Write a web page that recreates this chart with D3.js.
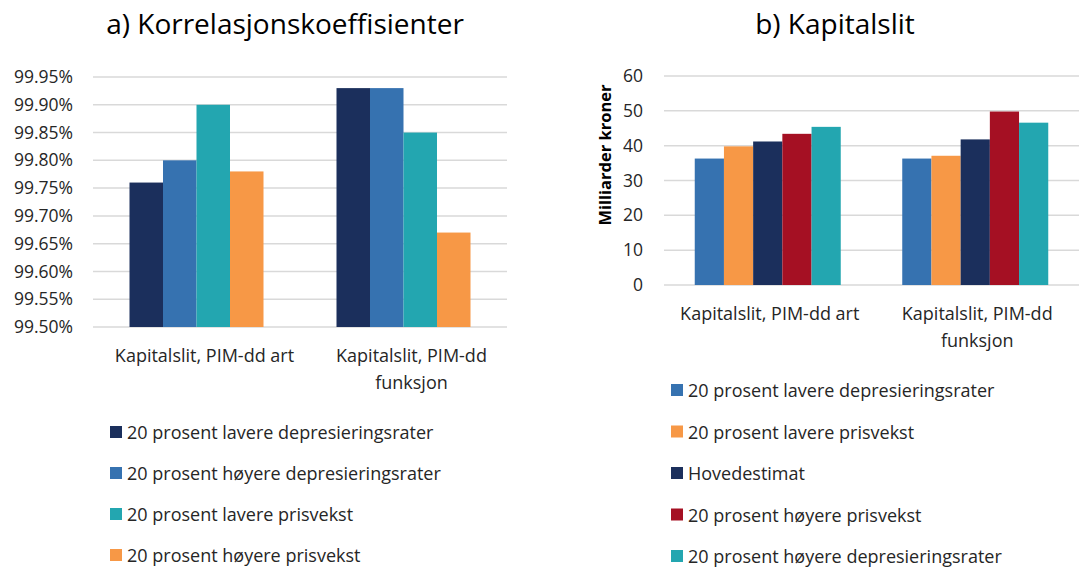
<!DOCTYPE html>
<html>
<head>
<meta charset="utf-8">
<script src="https://cdn.jsdelivr.net/npm/d3@7"></script>
<style>
	body { margin: 0; background: #fff; }
	svg text { font-family: "Open Sans", sans-serif; fill: #262626; }
</style>
</head>
<body>
<script>
var WIDTH = 1079, HEIGHT = 567;

var categories = ['Kapitalslit, PIM-dd art', 'Kapitalslit, PIM-dd funksjon'];

// a) Korrelasjonskoeffisienter (prosent)
var corrSeries = ['20 prosent lavere depresieringsrater', '20 prosent høyere depresieringsrater',
	'20 prosent lavere prisvekst', '20 prosent høyere prisvekst'];
var corrColors = ['#1b2f5c', '#3672b0', '#23a6b0', '#f79846'];
var corrValues = [
	[99.76, 99.93],
	[99.80, 99.93],
	[99.90, 99.85],
	[99.78, 99.67]
];
var corrTicks = [99.50, 99.55, 99.60, 99.65, 99.70, 99.75, 99.80, 99.85, 99.90, 99.95];

// b) Kapitalslit (milliarder kroner)
var slitSeries = ['20 prosent lavere depresieringsrater', '20 prosent lavere prisvekst', 'Hovedestimat',
	'20 prosent høyere prisvekst', '20 prosent høyere depresieringsrater'];
var slitColors = ['#3672b0', '#f79846', '#1b2f5c', '#a51023', '#23a6b0'];
var slitValues = [
	[36.3, 36.3],
	[39.8, 37.1],
	[41.2, 41.8],
	[43.4, 49.8],
	[45.4, 46.6]
];
var slitTicks = [0, 10, 20, 30, 40, 50, 60];

var svg = d3.select('body').append('svg')
	.attr('width', WIDTH)
	.attr('height', HEIGHT);

drawPanel(svg, {
	title: 'a) Korrelasjonskoeffisienter',
	titleX: 285,
	left: 93, right: 507, top: 77, bottom: 327,
	domain: [99.50, 99.95],
	ticks: corrTicks,
	tickFormat: function (d) { return d.toFixed(2) + '%'; },
	tickPadding: 20,
	series: corrSeries, colors: corrColors, values: corrValues,
	barSpan: 134,
	labelY: 355, labelDx: 8,
	labelWrap: [['Kapitalslit, PIM-dd art'], ['Kapitalslit, PIM-dd', 'funksjon']],
	legendX: 110, legendY: 432, legendStep: 41
});

drawPanel(svg, {
	title: 'b) Kapitalslit',
	titleX: 835,
	left: 664, right: 1079, top: 76, bottom: 285,
	domain: [0, 60],
	ticks: slitTicks,
	tickFormat: function (d) { return d; },
	tickPadding: 21,
	series: slitSeries, colors: slitColors, values: slitValues,
	barSpan: 146,
	labelY: 313, labelDx: 2,
	labelWrap: [['Kapitalslit, PIM-dd art'], ['Kapitalslit, PIM-dd', 'funksjon']],
	yTitle: 'Milliarder kroner', yTitleX: 604, yTitleY: 155,
	legendX: 671, legendY: 390, legendStep: 41.5
});

function drawPanel(svg, p) {
	var g = svg.append('g');

	g.append('text')
		.attr('x', p.titleX)
		.attr('y', 34)
		.attr('text-anchor', 'middle')
		.style('font-size', '28px')
		.style('fill', '#000')
		.text(p.title);

	var x0 = d3.scaleBand()
		.domain(categories)
		.range([p.left, p.right]);

	var x1 = d3.scaleBand()
		.domain(d3.range(p.series.length))
		.range([0, p.barSpan]);

	var y = d3.scaleLinear()
		.domain(p.domain)
		.range([p.bottom, p.top]);

	// gridlines
	g.selectAll('line.grid')
		.data(p.ticks)
		.enter()
		.append('line')
		.classed('grid', true)
		.attr('x1', p.left)
		.attr('x2', p.right)
		.attr('y1', function (d) { return y(d); })
		.attr('y2', function (d) { return y(d); })
		.attr('stroke', '#d9d9d9')
		.attr('stroke-width', 1.5);

	var yAxis = d3.axisLeft(y)
		.tickValues(p.ticks)
		.tickFormat(p.tickFormat)
		.tickSize(0)
		.tickPadding(p.tickPadding);

	var axisG = g.append('g')
		.attr('transform', 'translate(' + p.left + ',0)')
		.call(yAxis);
	axisG.select('.domain').remove();
	axisG.selectAll('text')
		.style('font-size', '17.5px')
		.style('font-family', '"Open Sans", sans-serif')
		.attr('fill', '#262626');

	if (p.yTitle) {
		g.append('text')
			.attr('transform', 'translate(' + p.yTitleX + ',' + p.yTitleY + ') rotate(-90)')
			.attr('text-anchor', 'middle')
			.attr('dominant-baseline', 'central')
			.style('font-size', '16.5px')
			.style('font-weight', 'bold')
			.style('fill', '#000')
			.text(p.yTitle);
	}

	// bars
	p.values.forEach(function (vals, si) {
		g.selectAll('rect.s' + si)
			.data(vals)
			.enter()
			.append('rect')
			.attr('class', 's' + si)
			.attr('x', function (d, ci) {
				return x0(categories[ci]) + (x0.bandwidth() - p.barSpan) / 2 + x1(si);
			})
			.attr('width', x1.bandwidth())
			.attr('y', function (d) { return y(d); })
			.attr('height', function (d) { return y(p.domain[0]) - y(d); })
			.attr('fill', p.colors[si]);
	});

	// category labels
	categories.forEach(function (c, ci) {
		var cx = x0(c) + x0.bandwidth() / 2 + p.labelDx;
		var t = g.append('text')
			.attr('x', cx)
			.attr('y', p.labelY)
			.attr('text-anchor', 'middle')
			.attr('dominant-baseline', 'central')
			.style('font-size', '18px');
		p.labelWrap[ci].forEach(function (line, li) {
			t.append('tspan')
				.attr('x', cx)
				.attr('dy', li === 0 ? 0 : 27)
				.text(line);
		});
	});

	// legend
	var leg = g.selectAll('g.legend')
		.data(p.series)
		.enter()
		.append('g')
		.attr('transform', function (d, i) {
			return 'translate(' + p.legendX + ',' + (p.legendY + i * p.legendStep) + ')';
		});
	leg.append('rect')
		.attr('x', 0)
		.attr('y', -6)
		.attr('width', 12)
		.attr('height', 12)
		.attr('fill', function (d, i) { return p.colors[i]; });
	leg.append('text')
		.attr('x', 17)
		.attr('y', 0)
		.attr('dominant-baseline', 'central')
		.style('font-size', '18px')
		.text(function (d) { return d; });
}
</script>
</body>
</html>
